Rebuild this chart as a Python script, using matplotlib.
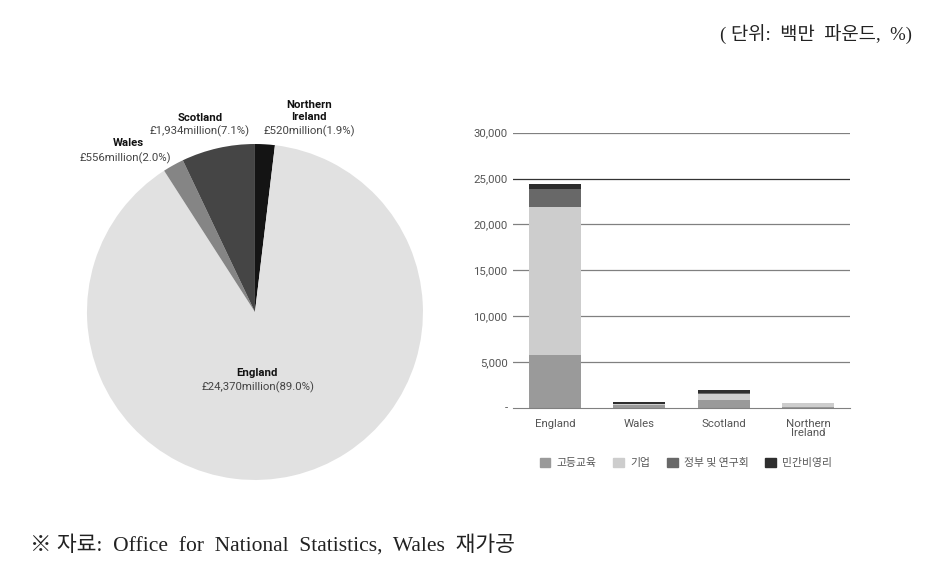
import matplotlib
matplotlib.use("Agg")
import matplotlib.pyplot as plt
from matplotlib.patches import Patch

plt.rcParams['font.family'] = ['Noto Sans CJK KR', 'DejaVu Sans']

# ---- pie data (clockwise from 12 o'clock) ----
pie_names = ["Northern Ireland", "England", "Wales", "Scotland"]
pie_values = [520, 24370, 556, 1934]
pie_colors = ["#141414", "#e1e1e1", "#858585", "#454545"]

# ---- stacked bar data ----
regions = ["England", "Wales", "Scotland", "Northern\nIreland"]
series_names = ["고등교육", "기업", "정부 및 연구회", "민간비영리"]
higher_edu = [5700, 250, 820, 20]
business = [16200, 80, 680, 480]
government = [2000, 50, 120, 10]
private_np = [470, 176, 314, 10]
series_colors = ["#9a9a9a", "#cdcdcd", "#686868", "#2e2e2e"]
yticks = [0, 5000, 10000, 15000, 20000, 25000, 30000]
ytick_labels = ["-", "5,000", "10,000", "15,000", "20,000", "25,000", "30,000"]

fig = plt.figure(figsize=(9.3, 5.71), dpi=100)

# ================= PIE =================
ax_pie = fig.add_axes([0.0935, 0.1594, 0.3613, 0.5884])
ax_pie.pie(pie_values, colors=pie_colors, startangle=90, counterclock=False,
           wedgeprops=dict(linewidth=0))
ax_pie.set_xlim(-1, 1)
ax_pie.set_ylim(-1, 1)
ax_pie.set_aspect("equal")

lab = dict(family=["Roboto", "DejaVu Sans"], fontsize=8.2, ha="center")
fig.text(128 / 930, 1 - 143 / 571, "Wales", fontweight="bold", va="center", color="#111", **lab)
fig.text(125 / 930, 1 - 158 / 571, "£556million(2.0%)", va="center", color="#444", **lab)
fig.text(200 / 930, 1 - 118 / 571, "Scotland", fontweight="bold", va="center", color="#111", **lab)
fig.text(200 / 930, 1 - 131 / 571, "£1,934million(7.1%)", va="center", color="#444", **lab)
fig.text(309 / 930, 1 - 111 / 571, "Northern\nIreland", fontweight="bold", va="center",
         color="#111", linespacing=1.15, **lab)
fig.text(309 / 930, 1 - 131 / 571, "£520million(1.9%)", va="center", color="#444", **lab)
fig.text(257 / 930, 1 - 373 / 571, "England", fontweight="bold", va="center", color="#111", **lab)
fig.text(258 / 930, 1 - 387 / 571, "£24,370million(89.0%)", va="center", color="#444", **lab)

# ================= BARS =================
ax = fig.add_axes([0.5516, 0.2863, 0.3624, 0.4813])
x = range(len(regions))
bottom = [0] * len(regions)
for vals, name, col in zip([higher_edu, business, government, private_np],
                           series_names, series_colors):
    ax.bar(x, vals, width=0.62, bottom=bottom, color=col, label=name, linewidth=0)
    bottom = [b + v for b, v in zip(bottom, vals)]

ax.set_xlim(-0.5, 3.5)
ax.set_ylim(0, 30000)
ax.set_yticks(yticks)
ax.set_yticklabels(ytick_labels)
ax.set_xticks(list(x))
ax.set_xticklabels(regions, linespacing=0.95)
ax.tick_params(axis="both", length=0, labelsize=8.2, colors="#555555")
ax.tick_params(axis="y", pad=4)
ax.tick_params(axis="x", pad=8)
for lbl in ax.get_xticklabels() + ax.get_yticklabels():
    lbl.set_family(["Roboto", "DejaVu Sans"])
for y in yticks[1:]:
    ax.axhline(y, color="#333333" if y == 25000 else "#808080", linewidth=0.9, zorder=0)
for s in ["left", "right", "top"]:
    ax.spines[s].set_visible(False)
ax.spines["bottom"].set_color("#808080")

handles = [Patch(color=c, label=n) for n, c in zip(series_names, series_colors)]
leg = fig.legend(handles=handles, loc="center", bbox_to_anchor=(686 / 930, 1 - 463 / 571),
                 ncol=4, frameon=False, fontsize=7.8, handlelength=1.0, handleheight=1.0,
                 handletextpad=0.6, columnspacing=1.5)
for t in leg.get_texts():
    t.set_color("#555555")

# ================= TEXTS =================
serif_kr = ["Liberation Serif", "Noto Sans CJK KR"]
fig.text(912 / 930, 1 - 35 / 571, "( 단위:  백만  파운드,  %)", ha="right", va="center",
         fontsize=13.5, color="#222", family=serif_kr)
fig.text(30 / 930, 1 - 545 / 571, "※ 자료:  Office  for  National  Statistics,  Wales  재가공",
         ha="left", va="center", fontsize=15.5, color="#222", family=serif_kr)

fig.savefig("out.png", dpi=100)
